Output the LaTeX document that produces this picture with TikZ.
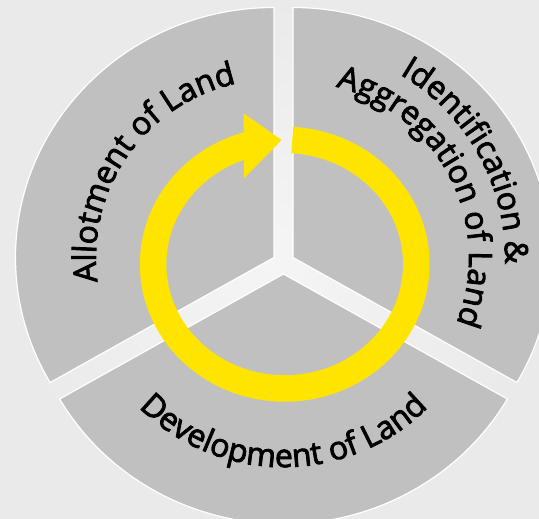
\documentclass[tikz,border=0pt]{standalone}
\usepackage{fontspec}
\usepackage{tikz}
\usetikzlibrary{decorations.text,calc}
\usepackage{xcolor}
\definecolor{sectorgray}{RGB}{192,192,192}
\definecolor{cycleyellow}{RGB}{255,228,0}
\definecolor{bgouter}{RGB}{234,234,234}
\definecolor{bginner}{RGB}{245,245,245}
\newfontfamily\segfamily{Open Sans}[FakeBold=2.6]
\newcommand{\segfont}{\segfamily\fontsize{32}{32}\selectfont}

\begin{document}
\begin{tikzpicture}[
    x=1pt, y=1pt,
    sector/.style={fill=sectorgray, draw=white, line width=1.2pt},
    ring/.style={draw=cycleyellow, line width=26.5pt},
    seglabel/.style={/utils/exec=\segfont, decorate,
        decoration={text along path, text align=center, text={|\segfont|#1}}}
]

% ========== BACKGROUND ==========
\useasboundingbox (0,0) rectangle (539,519);
\shade[inner color=bginner, outer color=bgouter] (0,0) rectangle (539,519);
\clip (0,0) rectangle (539,519);

% apex of each exploded sector and centre of the cycle
\coordinate (allot) at (274,261.5);
\coordinate (ident) at (293,261.5);
\coordinate (devel) at (283.5,245);
\coordinate (hub) at (284.7,254.8);

% ========== SECTORS ==========
\path[sector] (allot) -- ++(90:258.5pt and 250pt)
    arc[start angle=90, end angle=210, x radius=258.5pt, y radius=250pt] -- cycle;
\path[sector] (ident) -- ++(-30:258.5pt and 250pt)
    arc[start angle=-30, end angle=90, x radius=258.5pt, y radius=250pt] -- cycle;
\path[sector] (devel) -- ++(210:258.5pt and 250pt)
    arc[start angle=210, end angle=330, x radius=258.5pt, y radius=250pt] -- cycle;

% ========== CYCLE ARROW ==========
\draw[ring] ([shift={(86.7:131.6pt and 124.3pt)}]hub)
    arc[start angle=86.7, end angle=-254, x radius=131.6pt, y radius=124.3pt];
\fill[cycleyellow] (243.5,405.7) -- (281.7,379) -- (244,340.7) -- cycle;

% ========== LABELS ==========
\path[seglabel={Allotment of Land}] ([shift={(205:178pt)}]allot)
    arc[start angle=205, end angle=85, radius=178pt];
\path[seglabel={Identification {\&}}] ([shift={(75:212pt)}]ident)
    arc[start angle=75, end angle=-17, radius=212pt];
\path[seglabel={Aggregation of Land}] ([shift={(78:176pt)}]ident)
    arc[start angle=78, end angle=-24, radius=176pt];
\path[seglabel={Development of Land}] ([shift={(200:200pt and 193pt)}]devel)
    arc[start angle=200, end angle=340, x radius=200pt, y radius=193pt];

\end{tikzpicture}
\end{document}
